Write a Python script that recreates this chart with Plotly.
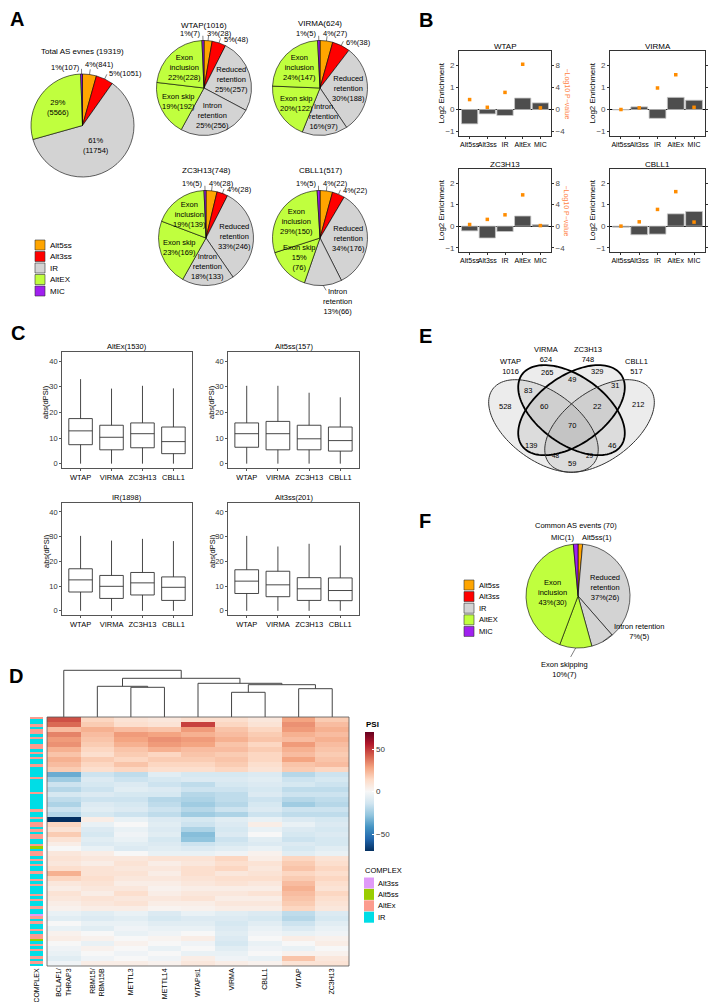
import numpy as np
import plotly.graph_objects as go

W, H = 717, 1002
FONT = "Liberation Sans, Arial, Helvetica, sans-serif"


def fx(x):
    return x / W


def fy(y):
    return 1 - y / H


COL5, COL3, COLIR, COLEX, COLMIC = "#FFA500", "#FF0000", "#D3D3D3", "#C0FF3E", "#A020F0"

# ---------------- Panel A data
total_cats = ["Alt5ss", "Alt3ss", "IR", "AltEX", "MIC"]
total_counts = [841, 1051, 11754, 5566, 107]
sub_cats = ["Alt5ss", "Alt3ss", "Reduced retention", "Intron retention", "Exon skip", "Exon inclusion", "MIC"]
sub_names = ["WTAP", "VIRMA", "ZC3H13", "CBLL1"]
wtap_counts = [28, 48, 257, 256, 192, 228, 7]
virma_counts = [27, 38, 188, 97, 122, 147, 5]
zc3h13_counts = [28, 28, 246, 133, 169, 139, 5]
cbll1_counts = [22, 22, 176, 66, 76, 150, 5]

# ---------------- Panel B data
b_cats = ["Alt5ss", "Alt3ss", "IR", "AltEx", "MIC"]
wtap_log2 = [-0.65, -0.20, -0.27, 0.52, 0.30]
virma_log2 = [-0.02, 0.12, -0.40, 0.55, 0.42]
zc3h13_log2 = [-0.22, -0.55, -0.25, 0.47, 0.07]
cbll1_log2 = [-0.05, -0.40, -0.37, 0.57, 0.68]
wtap_nlogp = [1.8, 0.4, 3.1, 8.2, 0.3]
virma_nlogp = [0.0, 0.3, 3.9, 6.3, 0.4]
zc3h13_nlogp = [0.3, 1.25, 2.1, 5.8, 0.1]
cbll1_nlogp = [0.0, 0.8, 3.1, 6.4, 0.75]

# ---------------- Panel C data (box statistics of abs(dPSI))
c_groups = ["WTAP", "VIRMA", "ZC3H13", "CBLL1"]
altex_stats = dict(low=[0, 0, 0, 0], q1=[7.4, 5.4, 6.2, 3.9], med=[12.8, 10.3, 11.7, 8.6],
                   q3=[17.6, 15.0, 15.9, 14.3], high=[33.0, 29.3, 30.4, 29.4])
alt5_stats = dict(low=[0, 0, 0, 0], q1=[6.4, 5.4, 5.4, 4.9], med=[11.7, 11.7, 9.7, 9.0],
                  q3=[15.9, 16.5, 15.0, 14.3], high=[30.4, 30.4, 27.7, 25.9])
ir_stats = dict(low=[0, 0, 0, 0], q1=[7.6, 5.0, 6.4, 4.2], med=[12.5, 9.9, 11.3, 9.5],
                q3=[17.0, 14.3, 15.5, 13.7], high=[30.3, 28.4, 29.1, 28.2])
alt3_stats = dict(low=[0, 0, 0, 0], q1=[7.0, 5.7, 4.2, 4.1], med=[12.0, 10.5, 8.9, 8.2],
                  q3=[16.6, 16.0, 13.4, 13.3], high=[30.3, 26.0, 27.1, 26.4])
c_titles = ["AltEx(1530)", "Alt5ss(157)", "IR(1898)", "Alt3ss(201)"]

# ---------------- Panel D data
heat_cols = ["BCLAF1/<br>THRAP3", "RBM15/<br>RBM15B", "METTL3", "METTL14", "WTAPsi1",
             "VIRMA", "CBLL1", "WTAP", "ZC3H13"]
psi_rows = [
    [45, 15, 10, 8, 12, 12, 8, 28, 18],
    [40, 18, 12, 10, 48, 15, 10, 32, 22],
    [22, 25, 22, 20, 30, 20, 15, 30, 25],
    [35, 22, 30, 28, 25, 22, 18, 25, 22],
    [30, 20, 28, 32, 30, 25, 20, 22, 25],
    [32, 18, 25, 30, 28, 20, 15, 30, 22],
    [25, 15, 20, 25, 22, 22, 18, 25, 20],
    [20, 12, 18, 15, 20, 18, 15, 22, 18],
    [25, 18, 15, 18, 18, 20, 15, 28, 20],
    [22, 15, 20, 15, 15, 18, 12, 20, 22],
    [18, 12, 15, 12, 12, 15, 10, 18, 15],
    [-35, -15, -18, -8, -12, -12, -10, -20, -15],
    [-25, -10, -15, -12, -10, -10, -8, -15, -12],
    [-15, -12, -10, -15, -18, -12, -10, -12, -15],
    [-20, -15, -8, -10, -15, -15, -12, -18, -18],
    [-12, -10, -12, -12, -20, -18, -10, -15, -15],
    [-18, -15, -15, -20, -22, -18, -15, -20, -18],
    [-22, -10, -12, -18, -25, -20, -12, -25, -20],
    [-15, -8, -10, -15, -20, -15, -10, -15, -15],
    [-20, -12, -15, -18, -25, -22, -15, -18, -18],
    [-70, 5, -5, -10, -12, -8, -5, -10, -12],
    [15, -5, 0, -8, -15, -10, 5, -5, -10],
    [10, -10, -5, -10, -22, -12, -5, -10, -12],
    [18, -12, -3, -8, -30, -10, 0, -12, -10],
    [10, -8, -5, -12, -28, -15, -8, -15, -12],
    [5, -10, -8, -10, -15, -12, -10, -10, -12],
    [0, -5, -10, -8, -10, -8, -5, -12, -8],
    [8, 5, 0, -5, -5, -3, 3, -8, -5],
    [10, 8, 8, 10, 10, 15, 5, 15, 10],
    [8, 5, 10, 5, 8, 12, 10, 18, 12],
    [12, 10, 8, 8, 12, 15, 8, 20, 15],
    [25, 10, 10, 5, 12, 8, 10, 15, 12],
    [15, 12, 8, 8, 10, 12, 12, 18, 15],
    [8, 10, 5, 5, 8, 10, 8, 22, 12],
    [5, 8, 8, 3, 5, 5, 5, 25, 10],
    [10, 5, 12, 5, 8, 8, 10, 22, 15],
    [8, 10, 8, 8, 10, 5, 5, 20, 12],
    [5, 8, 10, 5, 5, 8, 8, 18, 10],
    [3, 5, 5, 2, 3, 5, 5, 15, 8],
    [-5, -8, -5, -10, -5, -8, -10, -18, -10],
    [-8, -10, -8, -12, -10, -10, -12, -20, -12],
    [0, -5, -5, -8, -8, -12, -8, -15, -8],
    [-5, -8, -3, -5, -5, -10, -5, -10, -5],
    [3, 0, -5, -3, 0, -8, -3, -5, -3],
    [5, 3, 0, 2, 5, -10, 0, 5, 3],
    [0, -5, 3, 0, -3, -12, -5, 0, 5],
    [-3, 3, 0, -5, 0, -8, -3, -5, 0],
    [-5, 0, -3, 0, -5, -5, 0, 3, 3],
    [-8, -3, 0, -3, 5, -3, -5, 20, 8],
    [-3, 5, 5, 3, 8, 5, 3, 10, 10],
]
complex_types = ["Alt3ss", "Alt5ss", "AltEx", "IR"]
complex_colors = ["#E09AF8", "#9ACD00", "#FC9C8E", "#00DDE6"]
complex_codes = ("EIIEIEEIEIIEEIEIEIIE" "IIIIEIIIIIEIIIIIIEII" "EIEEIEIEEIIE5IEEIEIE"
                 "IIEIIEIEIIIEIEIIEII3" "EIEIIEIEE5IEIEIIEIEI")
# dendrogram merges: (left, right, height); negative = earlier merge (1-based)
dendro_merges = [(2, 3, 29.7), (1, -1, 30.7), (5, 6, 24.7), (7, 8, 28.3),
                 (-3, -4, 32.3), (4, -5, 33.7), (-2, -6, 38.7), (0, -7, 46.7)]

# ---------------- Panel E data
venn_sets = ["WTAP", "VIRMA", "ZC3H13", "CBLL1"]
venn_sizes = [1016, 624, 748, 517]
venn_regions = ["A", "B", "C", "D", "AB", "BC", "CD", "AD", "ABC", "BCD", "ABCD", "AC", "BD", "ACD", "ABD"]
venn_counts = [528, 265, 329, 212, 83, 49, 31, 59, 60, 22, 70, 139, 46, 48, 29]

# ---------------- Panel F data
f_cats = ["Alt5ss", "Reduced retention", "Intron retention", "Exon skipping", "Exon inclusion", "MIC"]
f_counts = [1, 26, 5, 7, 30, 1]

fig = go.Figure()
ann, shp, lay = [], [], {}


def T(x, y, s, size=8, color="black", xa="center", ya="middle", angle=0, bold=False):
    if bold:
        s = "<b>" + s + "</b>"
    ann.append(dict(x=fx(x), y=fy(y), xref="paper", yref="paper", text=s, showarrow=False,
                    font=dict(size=size, color=color, family=FONT), xanchor=xa, yanchor=ya,
                    textangle=angle, align="center", borderpad=0))


def Ln(x0, y0, x1, y1, color="black", width=0.6):
    shp.append(dict(type="line", xref="paper", yref="paper", x0=fx(x0), y0=fy(y0),
                    x1=fx(x1), y1=fy(y1), line=dict(color=color, width=width)))


def Rc(x0, y0, x1, y1, fill, line="black", width=0.6):
    shp.append(dict(type="rect", xref="paper", yref="paper", x0=fx(x0), y0=fy(y0),
                    x1=fx(x1), y1=fy(y1), fillcolor=fill, line=dict(color=line, width=width)))


def xa_(i, **kw):
    lay["xaxis" if i == 1 else "xaxis%d" % i] = kw


def ya_(i, **kw):
    lay["yaxis" if i == 1 else "yaxis%d" % i] = kw


def xr(i):
    return "x" if i == 1 else "x%d" % i


def yr(i):
    return "y" if i == 1 else "y%d" % i


# ---------------- pies helpers
def add_pie(cx, cy, r, counts, colors):
    fig.add_trace(go.Pie(values=counts, sort=False, direction="clockwise", rotation=0,
                         marker=dict(colors=colors, line=dict(color="black", width=0.6)),
                         textinfo="none", hoverinfo="skip", showlegend=False,
                         domain=dict(x=[fx(cx - r), fx(cx + r)], y=[fy(cy + r), fy(cy - r)])))


def mid(counts, i):
    return 2 * np.pi * (sum(counts[:i]) + counts[i] / 2) / sum(counts)


def at(cx, cy, r, ang, f):
    return cx + f * r * np.sin(ang), cy - f * r * np.cos(ang)


def pct(counts, i):
    return round(100 * counts[i] / sum(counts))


def tick_line(cx, cy, r, counts, i, f0=1.0, f1=1.1):
    a = mid(counts, i)
    x0, y0 = at(cx, cy, r, a, f0)
    x1, y1 = at(cx, cy, r, a, f1)
    Ln(x0, y0, x1, y1, "black", 0.5)


PFS = 7.5
# Total pie
cx, cy, r = 74.5, 117.5, 51.5
add_pie(cx, cy, r, total_counts, [COL5, COL3, COLIR, COLEX, COLMIC])
T(cx, 43, "Total AS evnes (%d)" % sum(total_counts), size=8)
x, y = at(cx, cy, r, mid(total_counts, 3), 0.6)
T(x, y, "%d%%<br>(%d)" % (pct(total_counts, 3), total_counts[3]), size=PFS)
x, y = at(cx, cy, r, mid(total_counts, 2), 0.47)
T(x, y, "%d%%<br>(%d)" % (pct(total_counts, 2), total_counts[2]), size=PFS)
T(cx - 2, cy - r - 7, "%d%%(%d)" % (pct(total_counts, 4), total_counts[4]), size=PFS, xa="right")
T(cx + 1, cy - r - 9, "%d%%(%d)" % (pct(total_counts, 0), total_counts[0]), size=PFS, xa="left")
x, y = at(cx, cy, r, mid(total_counts, 1), 1.1)
T(x + 1, y - 1, "%d%%(%d)" % (pct(total_counts, 1), total_counts[1]), size=PFS, xa="left")
for i in (4, 0, 1):
    tick_line(cx, cy, r, total_counts, i)

# sub pies
sub_specs = [("WTAP", wtap_counts, 196, 80, 17), ("VIRMA", virma_counts, 312, 80, 16),
             ("ZC3H13", zc3h13_counts, 198, 230, 163), ("CBLL1", cbll1_counts, 312, 230, 163)]
sub_colors = [COL5, COL3, COLIR, COLIR, COLEX, COLEX, COLMIC]
rs = 47.5
for name, cnt, cx, cy, ty in sub_specs:
    add_pie(cx, cy, rs, cnt, sub_colors)
    T(cx, ty, "%s(%d)" % (name, sum(cnt)), size=8)
    lab = {2: "Reduced<br>retention<br>%d%%(%d)", 3: "Intron<br>retention<br>%d%%(%d)",
           4: "Exon skip<br>%d%%(%d)", 5: "Exon<br>inclusion<br>%d%%(%d)"}
    for i, fmt in lab.items():
        if name == "CBLL1" and i == 3:
            continue
        f = 0.6
        s = fmt % (pct(cnt, i), cnt[i])
        if name == "CBLL1" and i == 4:
            s = "Exon skip<br>%d%%<br>(%d)" % (pct(cnt, i), cnt[i])
        x, y = at(cx, cy, rs, mid(cnt, i), f)
        T(x, y, s, size=PFS)
    T(cx - 2, cy - rs - 7, "%d%%(%d)" % (pct(cnt, 6), cnt[6]), size=PFS, xa="right")
    T(cx + 2, cy - rs - 7, "%d%%(%d)" % (pct(cnt, 0), cnt[0]), size=PFS, xa="left")
    x, y = at(cx, cy, rs, mid(cnt, 1), 1.1)
    T(x + 2, y + 1, "%d%%(%d)" % (pct(cnt, 1), cnt[1]), size=PFS, xa="left")
    for i in (6, 0, 1):
        tick_line(cx, cy, rs, cnt, i)
    if name == "CBLL1":
        x0, y0 = at(cx, cy, rs, mid(cnt, 3), 1.0)
        Ln(x0, y0, x0 + 3, y0 + 5, "black", 0.5)
        T(x0 + 14, y0 + 16, "Intron<br>retention<br>%d%%(%d)" % (pct(cnt, 3), cnt[3]), size=PFS)

# legend A
for k, (c, col) in enumerate(zip(total_cats, [COL5, COL3, COLIR, COLEX, COLMIC])):
    yc = 237 + k * 11.5
    Rc(27, yc - 5, 37, yc + 5, col, "#333", 0.6)
    T(41, yc, c, size=8, xa="left")

# ---------------- Panel B
b_panels = [("WTAP", wtap_log2, wtap_nlogp), ("VIRMA", virma_log2, virma_nlogp),
            ("ZC3H13", zc3h13_log2, zc3h13_nlogp), ("CBLL1", cbll1_log2, cbll1_nlogp)]
b_boxes = [(451, 43, 543, 128), (602, 43, 697, 128), (451, 161, 543, 244), (602, 161, 697, 244)]
PCOL = "#FF7F3F"
for k, ((name, lg, nl), (l, t, rr, b)) in enumerate(zip(b_panels, b_boxes)):
    xi, yi, y2 = k + 1, k + 1, k + 5
    xa_(xi, domain=[fx(l), fx(rr)], anchor=yr(yi), type="category", categoryorder="array",
        categoryarray=b_cats, range=[-0.6, 4.6], showline=True, mirror=True, linecolor="#333",
        linewidth=0.8, ticks="outside", ticklen=2, tickcolor="#333", tickangle=0,
        tickfont=dict(size=7, color="black", family=FONT), showgrid=False, zeroline=False)
    ya_(yi, domain=[fy(b), fy(t)], anchor=xr(xi), range=[-1.2, 2.65], tickvals=[-1, 0, 1, 2],
        ticktext=["\u22121", "0", "1", "2"], showline=True, mirror=True, linecolor="#333", linewidth=0.8,
        ticks="outside", ticklen=2, tickcolor="#333", tickfont=dict(size=8, color="#4D4D4D", family=FONT),
        showgrid=False, zeroline=True, zerolinecolor="black", zerolinewidth=1)
    ya_(y2, overlaying=yr(yi), anchor=xr(xi), side="right", range=[-4.8, 10.6], tickvals=[-4, 0, 4, 8],
        ticktext=["\u22124", "0", "4", "8"], ticks="outside", ticklen=2, tickcolor="#333",
        tickfont=dict(size=8, color="#4D4D4D", family=FONT), showgrid=False, zeroline=False, showline=False)
    fig.add_trace(go.Bar(x=b_cats, y=lg, width=0.92, marker=dict(color="#4D4D4D", line=dict(color="#C8C8C8", width=0.8)),
                         xaxis=xr(xi), yaxis=yr(yi), hoverinfo="skip", showlegend=False))
    fig.add_trace(go.Scatter(x=b_cats, y=nl, mode="markers", marker=dict(symbol="square", size=3.5, color="#FF8C00"),
                             xaxis=xr(xi), yaxis=yr(y2), hoverinfo="skip", showlegend=False))
    T((l + rr) / 2, t - 5, name, size=8)
    T(l - 18, (t + b) / 2, "Log2 Enrichment", size=8, angle=-90)
    T(min(rr + 15, 706), (t + b) / 2, "\u2212Log10 P\u2212value", size=7, angle=90, color=PCOL)

# ---------------- Panel C
c_sets = [altex_stats, alt5_stats, ir_stats, alt3_stats]
c_boxes = [(54, 344, 184, 460), (220, 344, 351, 460), (54, 495, 184, 607), (220, 495, 351, 607)]
for k, (st, (l, t, rr, b), title) in enumerate(zip(c_sets, c_boxes, c_titles)):
    xi, yi = k + 5, k + 9
    xa_(xi, domain=[fx(l), fx(rr)], anchor=yr(yi), type="category", categoryorder="array",
        categoryarray=c_groups, range=[-0.6, 3.6], showline=True, mirror=True, linecolor="#555",
        linewidth=0.8, ticks="outside", ticklen=2, tickcolor="#555", tickangle=0,
        tickfont=dict(size=7.5, color="black", family=FONT), showgrid=False, zeroline=False)
    ya_(yi, domain=[fy(b), fy(t)], anchor=xr(xi), range=[-1.7, 43.6], tickvals=[0, 10, 20, 30, 40],
        showline=True, mirror=True, linecolor="#555", linewidth=0.8, ticks="outside", ticklen=2,
        tickcolor="#555", tickfont=dict(size=7.5, color="#333", family=FONT), showgrid=False, zeroline=False)
    fig.add_trace(go.Box(x=c_groups, q1=st["q1"], median=st["med"], q3=st["q3"], lowerfence=st["low"],
                         upperfence=st["high"], fillcolor="white", line=dict(color="#333", width=0.9),
                         whiskerwidth=0, width=0.76, boxpoints=False, xaxis=xr(xi), yaxis=yr(yi),
                         hoverinfo="skip", showlegend=False))
    T((l + rr) / 2, t - 6, title, size=7.5)
    T(l - 16, (t + b) / 2 - 8, "abs(dPSI)", size=7.5, angle=-90)

# ---------------- Panel D
HX0, HX1, HY0, HY1 = 39, 341, 709, 958
nrow = len(psi_rows)
xa_(9, domain=[fx(HX0), fx(HX1)], anchor=yr(13), range=[-0.5, 8.5], tickvals=list(range(9)),
    ticktext=heat_cols, tickangle=-90, ticks="", showline=False, showgrid=False, zeroline=False,
    tickfont=dict(size=7, color="black", family=FONT))
ya_(13, domain=[fy(HY1), fy(HY0)], anchor=xr(9), range=[nrow - 0.5, -0.5], showticklabels=False,
    showgrid=False, zeroline=False, ticks="")
RDBU = ["#053061", "#2166AC", "#4393C3", "#92C5DE", "#D1E5F0", "#F7F7F7",
        "#FDDBC7", "#F4A582", "#D6604D", "#B2182B", "#67001F"]
cs = [[i / 10, c] for i, c in enumerate(RDBU)]
fig.add_trace(go.Heatmap(z=psi_rows, x=list(range(9)), y=list(range(nrow)), colorscale=cs, zmin=-70, zmax=70,
                         xaxis=xr(9), yaxis=yr(13), hoverinfo="skip",
                         colorbar=dict(x=fx(357), xanchor="left", y=fy(783.5), yanchor="middle", len=119,
                                       lenmode="pixels", thickness=9, thicknessmode="pixels", xpad=0, ypad=0,
                                       tickvals=[-50, 0, 50], ticktext=["\u221250", "0", "50"], ticks="inside",
                                       ticklen=2, tickcolor="white", outlinewidth=0,
                                       tickfont=dict(size=8, color="#333", family=FONT))))
Rc(HX0, HY0, HX1, HY1, "rgba(0,0,0,0)", "#555", 0.8)
T(357, 716, "PSI", size=8, xa="left", bold=True)

# annotation column
ncode = len(complex_codes)
code_map = {"3": 0, "5": 1, "E": 2, "I": 3}
zc = [[code_map[c]] for c in complex_codes]
dcs = [[0, complex_colors[0]], [1 / 6, complex_colors[0]], [1 / 6, complex_colors[1]], [0.5, complex_colors[1]],
       [0.5, complex_colors[2]], [5 / 6, complex_colors[2]], [5 / 6, complex_colors[3]], [1, complex_colors[3]]]
xa_(11, domain=[fx(22), fx(35)], anchor=yr(15), range=[-0.5, 0.5], tickvals=[0], ticktext=["COMPLEX"],
    tickangle=-90, ticks="", showgrid=False, zeroline=False, tickfont=dict(size=7, color="black", family=FONT))
ya_(15, domain=[fy(HY1), fy(HY0)], anchor=xr(11), range=[ncode - 0.5, -0.5], showticklabels=False,
    showgrid=False, zeroline=False, ticks="")
fig.add_trace(go.Heatmap(z=zc, colorscale=dcs, zmin=0, zmax=3, showscale=False, xaxis=xr(11), yaxis=yr(15),
                         hoverinfo="skip"))

# dendrogram
xa_(10, domain=[fx(HX0), fx(HX1)], anchor=yr(14), range=[-0.5, 8.5], visible=False)
ya_(14, domain=[fy(HY0), fy(660)], anchor=xr(10), range=[0, 49], visible=False)
node_x, node_h = [], []
dx, dy = [], []


def child(c):
    if c >= 0:
        return float(c), 0.0
    return node_x[-c - 1], node_h[-c - 1]


for a, bb, h in dendro_merges:
    xa0, ha0 = child(a)
    xb0, hb0 = child(bb)
    dx += [xa0, xa0, xb0, xb0, None]
    dy += [ha0, h, h, hb0, None]
    node_x.append((xa0 + xb0) / 2)
    node_h.append(h)
fig.add_trace(go.Scatter(x=dx, y=dy, mode="lines", line=dict(color="#444", width=1),
                         xaxis=xr(10), yaxis=yr(14), hoverinfo="skip", showlegend=False))

# COMPLEX legend
T(356, 862, "COMPLEX", size=7.5, xa="left")
for k, (c, col) in enumerate(zip(complex_types, complex_colors)):
    yc = 875 + k * 11.4
    Rc(356, yc - 5.5, 366, yc + 5.5, col, col, 0)
    T(369, yc, c, size=7.5, xa="left")


# ---------------- Panel E (Venn)
def vmap(u, v):
    return 563.5 + (u - 0.5) * 187, 463 - (v - 0.185) * 158


venn_ell = [(0.35, 0.47, -45, 0.36, 0.205), (0.5, 0.57, -45, 0.35, 0.2),
            (0.5, 0.57, 45, 0.35, 0.2), (0.65, 0.47, 45, 0.36, 0.205)]
venn_lw = [1.0, 1.8, 1.8, 1.0]
venn_lc = ["#333", "black", "black", "#333"]
paths = []
t = np.linspace(0, 2 * np.pi, 120)
for (cu, cv, ang, ea, eb) in venn_ell:
    th = np.radians(ang)
    u = cu + ea * np.cos(t) * np.cos(th) - eb * np.sin(t) * np.sin(th)
    v = cv + ea * np.cos(t) * np.sin(th) + eb * np.sin(t) * np.cos(th)
    X, Y = vmap(u, v)
    paths.append("M " + " L ".join("%.5f,%.5f" % (fx(a), fy(b)) for a, b in zip(X, Y)) + " Z")
for p in paths:
    shp.append(dict(type="path", path=p, xref="paper", yref="paper", fillcolor="rgba(140,140,140,0.17)",
                    line=dict(width=0)))
for p, lw, lc in zip(paths, venn_lw, venn_lc):
    shp.append(dict(type="path", path=p, xref="paper", yref="paper", fillcolor="rgba(0,0,0,0)",
                    line=dict(color=lc, width=lw)))
venn_label_pos = [(502, 358), (538, 346), (580, 346), (628, 358)]
for s, n, (x, y) in zip(venn_sets, venn_sizes, venn_label_pos):
    T(x, y, "%s<br>%d" % (s, n), size=7.5)
venn_region_pos = [(497, 398), (539, 364), (589, 363), (630, 396), (520, 382), (564, 371), (607, 377),
                   (564, 455), (536, 398), (589, 398), (564, 417), (523, 437), (604, 437), (548, 447), (582, 447)]
for n, (x, y) in zip(venn_counts, venn_region_pos):
    T(x, y, str(n), size=7.5 if n not in (48, 29) else 6.5)

# ---------------- Panel F
cx, cy, r = 570, 588, 52
add_pie(cx, cy, r, f_counts, [COL5, COLIR, COLIR, COLEX, COLEX, COLMIC])
T(568, 517, "Common AS events (%d)" % sum(f_counts), size=7.5)
T(567, 529, "MIC(%d)" % f_counts[5], size=7.5, xa="right")
T(573, 529, "Alt5ss(%d)" % f_counts[0], size=7.5, xa="left")
x, y = at(cx, cy, r, mid(f_counts, 4), 0.5)
T(x, y, "Exon<br>inclusion<br>%d%%(%d)" % (pct(f_counts, 4), f_counts[4]), size=PFS)
x, y = at(cx, cy, r, mid(f_counts, 1), 0.55)
T(x, y, "Reduced<br>retention<br>%d%%(%d)" % (pct(f_counts, 1), f_counts[1]), size=PFS)
x0, y0 = at(cx, cy, r, mid(f_counts, 2), 1.0)
Ln(x0, y0, x0 + 9, y0 - 7, "black", 0.5)
T(631, 623, "Intron retention<br>%d%%(%d)" % (pct(f_counts, 2), f_counts[2]), size=PFS)
x0, y0 = at(cx, cy, r, mid(f_counts, 3), 1.0)
Ln(x0, y0, x0 - 5, y0 + 9, "black", 0.5)
T(556, 661, "Exon skipping<br>%d%%(%d)" % (pct(f_counts, 3), f_counts[3]), size=PFS)
for k, (c, col) in enumerate(zip(total_cats, [COL5, COL3, COLIR, COLEX, COLMIC])):
    yc = 577 + k * 11.6
    Rc(456, yc - 5, 466, yc + 5, col, "#333", 0.6)
    T(470, yc, c, size=7.5, xa="left")

# ---------------- panel letters
for s, x, y in [("A", 9, 11), ("B", 418, 12), ("C", 10, 325), ("D", 8, 668), ("E", 417, 328), ("F", 417, 513)]:
    T(x, y, s, size=20, bold=True)

lay.update(dict(width=W, height=H, margin=dict(l=0, r=0, t=0, b=0), paper_bgcolor="white",
                plot_bgcolor="rgba(0,0,0,0)", showlegend=False, annotations=ann, shapes=shp,
                font=dict(family=FONT, size=8, color="black"), bargap=0.08))
fig.update_layout(**lay)
fig.write_html("out.html")
